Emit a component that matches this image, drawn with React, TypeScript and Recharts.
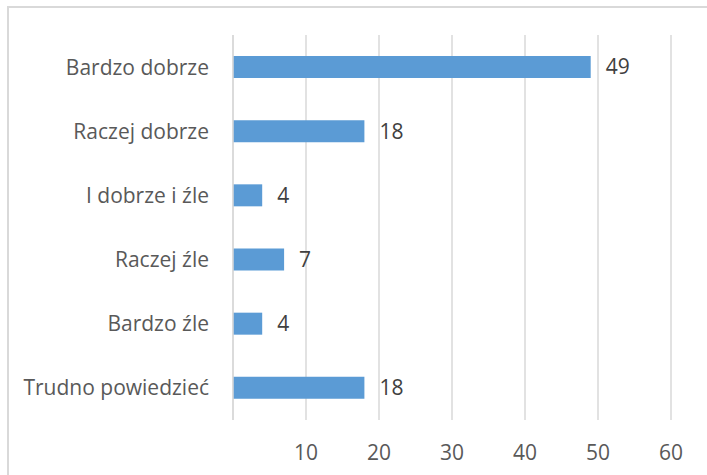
import { BarChart, Bar, XAxis, YAxis, CartesianGrid, LabelList } from "recharts";

const categories = [
  "Bardzo dobrze",
  "Raczej dobrze",
  "I dobrze i źle",
  "Raczej źle",
  "Bardzo źle",
  "Trudno powiedzieć",
];
const values = [49, 18, 4, 7, 4, 18];
const ticks = [0, 10, 20, 30, 40, 50, 60];

const data = categories.map((name, i) => ({ name, value: values[i] }));

const FONT = "'Open Sans', sans-serif";

const App = () => {
  return (
    <div
      style={{
        position: "absolute",
        left: 7,
        top: 6,
        width: 720,
        height: 480,
        boxSizing: "border-box",
        border: "2px solid #d9d9d9",
        fontFamily: FONT,
        background: "#fff",
      }}
    >
      <BarChart
        width={700}
        height={470}
        data={data}
        layout="vertical"
        margin={{ top: 27, right: 38, bottom: 8, left: 0 }}
      >
        <CartesianGrid horizontal={false} stroke="#d9d9d9" strokeWidth={1.5} />
        <XAxis
          type="number"
          domain={[0, 60]}
          ticks={ticks}
          axisLine={false}
          tickLine={false}
          height={50}
          tickMargin={19}
          tickFormatter={(v: number) => (v === 0 ? "" : String(v))}
          tick={{ fill: "#595959", fontSize: 21, fontFamily: FONT }}
        />
        <YAxis
          type="category"
          dataKey="name"
          width={224}
          axisLine={{ stroke: "#d9d9d9", strokeWidth: 1.5 }}
          tickLine={false}
          tickMargin={18}
          tick={{ fill: "#595959", fontSize: 21, fontFamily: FONT }}
        />
        <Bar dataKey="value" fill="#5b9bd5" barSize={22} isAnimationActive={false}>
          <LabelList
            dataKey="value"
            position="right"
            offset={15}
            fill="#404040"
            fontSize={21}
            fontFamily={FONT}
          />
        </Bar>
      </BarChart>
    </div>
  );
};

export default App;
